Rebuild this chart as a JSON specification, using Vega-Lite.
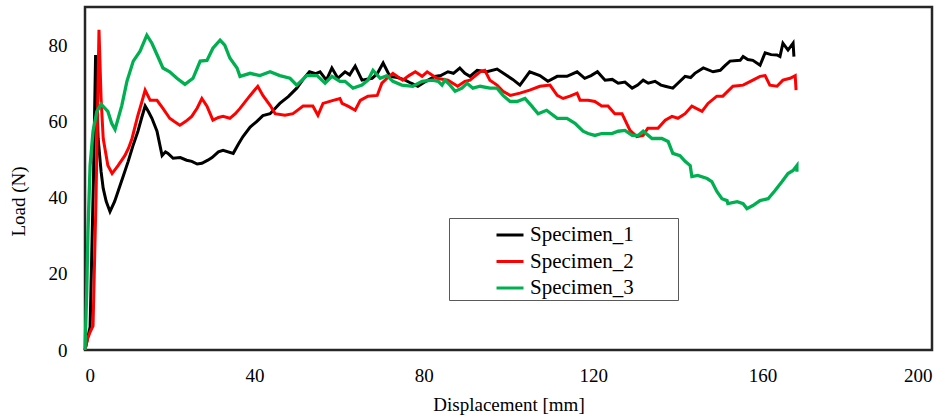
{
"$schema": "https://vega.github.io/schema/vega-lite/v6.json",
"width": 847, "height": 343,
"autosize": {"type": "none"},
"padding": {"left": 85, "top": 7, "right": 18, "bottom": 68},
"background": "white",
"config": {"view": {"stroke": "#262626", "strokeWidth": 2.5}, "font": "Liberation Serif, Times New Roman, serif",
 "axis": {"labelFont": "Liberation Serif, Times New Roman, serif", "titleFont": "Liberation Serif, Times New Roman, serif"},
 "legend": {"labelFont": "Liberation Serif, Times New Roman, serif"}},
"datasets": {
"s1": [[0,0],[0.8,4],[1.2,6],[2.0,45],[2.5,77.4],[3.1,55.5],[3.8,46.8],[4.3,42.4],[5.0,39],[5.9,36.3],[7.0,39],[7.8,41.6],[9.0,45.5],[10.2,49.5],[11.3,53.5],[12.5,57.4],[13.4,61],[14.2,64],[15.0,62.5],[15.8,60.8],[17.0,57.4],[18.2,51],[19.0,52],[19.6,51.6],[20.8,50.3],[22.5,50.5],[24.0,49.8],[25.2,49.5],[26.5,48.8],[27.6,49],[29.0,49.8],[30.0,50.5],[31.5,52],[32.6,52.4],[35.0,51.6],[36.2,54],[37.3,56],[39,58.5],[40.6,60],[42,61.5],[43.7,62],[45,63.5],[46,64.7],[48,66.5],[50,68.7],[51.5,71],[53,73],[54.5,72.5],[55.5,73],[57,70.8],[58.3,74],[59.7,71.3],[61.4,73],[62.5,72.2],[63.8,74.5],[65.4,70.8],[67.8,71.3],[69,72.5],[70.4,75.3],[72,71.8],[73.8,71.5],[75.6,70.8],[77,70],[78.6,69.2],[80.5,70.5],[82.6,71.8],[84,72],[85.7,73],[87,72.6],[88.5,74],[89.7,72.6],[90.9,71.8],[92.6,73.4],[94.9,73],[97.3,73.7],[99.6,72],[101,71],[102.7,69.5],[104,71.5],[105,73],[107.4,72],[109.3,70.5],[111.5,71.8],[113.8,71.8],[116.2,73],[118,71.3],[119.5,72],[121,73],[122.8,70.8],[124.5,71],[125.9,70],[127.5,70.3],[129.2,68.7],[130.5,69.5],[131.8,70.8],[133,70],[134.6,70.5],[136,69.5],[137,69.2],[138.8,68.7],[140,70],[141.7,71.8],[143,71.5],[144,72.6],[146,74],[148.3,73],[150,73.4],[151,74.5],[152.3,75.8],[154.7,76],[155.4,77],[156.5,76.2],[157.7,76],[159.4,74.7],[160.6,78],[162,77.5],[163.4,77.4],[164.1,77],[164.8,80.5],[166,78.7],[167.2,80.5],[167.4,77]],
"s2": [[0,0],[0.6,3],[1.2,4.7],[1.9,6.3],[2.6,39.7],[3.3,84],[3.8,66],[4.3,55.5],[5.4,48.4],[6.4,46.3],[7.8,48.4],[9.4,51],[10.3,53],[11.1,55.5],[12.5,61.6],[13.4,65],[14.2,68.2],[15.4,65.5],[17,65.5],[18.4,63.4],[20,60.8],[21,60],[22.4,59],[23.8,60],[25.2,61.3],[26.5,63.5],[27.6,66],[28.8,64],[30.2,60.3],[31.5,61],[32.6,61.3],[34.2,60.8],[35.5,62],[36.6,63.4],[39,66.8],[40.8,69.2],[42,66.8],[43.7,64.2],[44.9,62],[47.2,61.6],[49.1,62],[50.3,63],[51.5,64],[53.8,64],[55,61.6],[56.2,64.7],[58.6,65.5],[60.2,66],[60.7,64.7],[62.1,64],[63.8,62.9],[65,65.5],[66.8,66.6],[69,66.8],[70.1,70],[71.5,71.5],[72.7,72.6],[75,70.8],[76.5,72],[78,73],[79.6,71.8],[80.8,73],[83.1,71.3],[85.7,70.8],[88,69.2],[89.7,70.5],[90.9,70.8],[93.3,73],[94.4,73.4],[95.6,70.8],[97.3,69.5],[98.7,67.9],[100.4,66.8],[102.7,67.4],[105,68.2],[107.4,69.2],[109.8,69.5],[111.5,66.8],[112.9,66],[114.5,66.6],[116.2,67.4],[116.9,65.5],[118.8,65.5],[120.4,65.2],[122,64],[123.5,64],[125.1,62],[126.8,62],[128.7,57.6],[130.3,56],[131.8,56.3],[132.9,58.2],[135.3,58.2],[137,60.3],[138.6,61.3],[140,60.8],[141.7,62],[143.3,64],[145.7,62.6],[147.1,64.7],[149.2,66.6],[150.6,66.6],[153,69.2],[155.4,69.5],[157.7,70.8],[159.4,71.8],[160.6,72],[161.7,69.5],[163.4,69.2],[164.8,70.8],[166.5,71.3],[167.7,72],[167.9,68.2]],
"s3": [[0,0],[0.4,15],[0.7,31],[1.2,48.4],[1.9,57.4],[2.8,62.6],[3.8,64.5],[5.4,62.6],[6.3,59.5],[7.1,57.9],[8.7,64.2],[9.9,70.5],[11.4,75.8],[13,78.4],[14.6,82.6],[15.8,80.5],[17.2,77],[18.4,74],[20,73],[21.7,71.3],[23.6,69.7],[25.5,71.3],[27.2,75.8],[28.8,76],[30.2,79.2],[31.9,81.3],[33,80],[34.2,76.6],[35.9,74],[36.6,71.8],[39,72.6],[41.3,72],[43.7,73],[46,72],[48.4,71.3],[50,69.5],[52.4,72],[54.8,72],[56.7,70],[58.3,71.8],[60.2,70.5],[61.4,70.5],[63.3,68.7],[65.4,69.5],[66.8,70.8],[68,73.4],[69.7,71.3],[71.3,72],[72.7,70.5],[74.8,69.5],[77.4,69.2],[79.6,70.5],[82,70.8],[83.4,70.5],[84.3,69.5],[85,70.8],[86.2,69.5],[87.4,67.9],[89,68.7],[90.2,70],[91.6,68.7],[93.3,69.2],[95.6,68.7],[97.3,68.7],[98.7,66.8],[100.4,65.2],[102,65.2],[103.9,66],[105.5,64],[107,62],[109,62.9],[111.5,60.8],[113.8,60.8],[115.7,59.5],[117.6,57.4],[118.8,56.8],[120.4,56.3],[122,56.8],[124.4,56.8],[125.9,57.4],[127.5,57.6],[129.2,56.3],[130.6,56.3],[131.8,57.4],[133.9,55.5],[136.2,55.5],[137.7,54.7],[138.8,51.6],[140.5,51],[141.7,49.5],[142.9,48.4],[143.3,45.5],[144.7,45.8],[146.9,45],[148,44.2],[149.2,41.6],[150.4,39.7],[151.6,39.2],[151.8,38.4],[154,38.9],[155.4,38.4],[156.3,37.1],[157.7,37.9],[159.4,39.2],[161.3,39.7],[162.9,41.8],[164.6,44.2],[166,46.3],[167.2,47.1],[168.1,48.4],[168.1,46.8]]
},
"layer": [
 {"data": {"name": "s1"}, "transform": [{"calculate": "'Specimen_1'", "as": "s"}, {"calculate": "datum[0]", "as": "x"}, {"calculate": "datum[1]", "as": "y"}],
  "mark": {"type": "line", "strokeWidth": 3}},
 {"data": {"name": "s2"}, "transform": [{"calculate": "'Specimen_2'", "as": "s"}, {"calculate": "datum[0]", "as": "x"}, {"calculate": "datum[1]", "as": "y"}],
  "mark": {"type": "line", "strokeWidth": 3}},
 {"data": {"name": "s3"}, "transform": [{"calculate": "'Specimen_3'", "as": "s"}, {"calculate": "datum[0]", "as": "x"}, {"calculate": "datum[1]", "as": "y"}],
  "mark": {"type": "line", "strokeWidth": 3.3}}
],
"encoding": {
 "x": {"field": "x", "type": "quantitative", "scale": {"domain": [0, 200], "nice": false, "zero": false},
  "axis": {"values": [0, 40, 80, 120, 160, 200], "title": "Displacement [mm]", "grid": false, "ticks": false, "domain": false,
   "labelFontSize": 19, "labelColor": "#000", "labelPadding": 16,
   "titleFontSize": 19, "titleFontWeight": "normal", "titleColor": "#000", "titleY": 54, "titleBaseline": "middle"}},
 "y": {"field": "y", "type": "quantitative", "scale": {"domain": [0, 90], "nice": false},
  "axis": {"values": [0, 20, 40, 60, 80], "title": "Load (N)", "grid": false, "ticks": false, "domain": false,
   "labelFontSize": 19, "labelColor": "#000", "labelPadding": 18,
   "titleFontSize": 19, "titleFontWeight": "normal", "titleColor": "#000", "titleX": -67, "titleY": 194, "titleBaseline": "middle"}},
 "color": {"field": "s", "type": "nominal",
  "scale": {"domain": ["Specimen_1", "Specimen_2", "Specimen_3"], "range": ["#000000", "#FF0000", "#00B050"]},
  "legend": {"orient": "none", "legendX": 364, "legendY": 211, "title": null, "symbolType": "stroke", "symbolStrokeWidth": 3, "symbolSize": 729,
   "symbolOffset": 44, "labelOffset": 5, "rowPadding": 1.5, "padding": 2, "strokeColor": "#595959", "fillColor": "white",
   "labelFontSize": 21, "labelColor": "#000", "labelLimit": 300,
   "labelExpr": "datum.label + '\u00a0\u00a0\u00a0\u00a0\u00a0\u00a0\u00a0\u00a0\u200b'"}},
 "order": {"value": null}
}
}
